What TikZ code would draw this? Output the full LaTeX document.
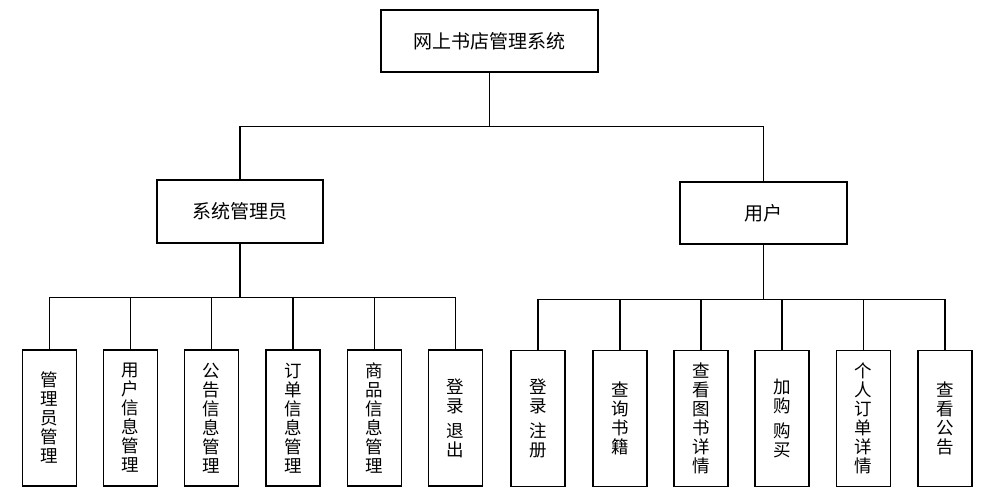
\documentclass[tikz,border=0pt]{standalone}
\usepackage{fontspec}
\newfontfamily\cjk{Noto Sans CJK SC}

\begin{document}
\begin{tikzpicture}[every node/.style={inner sep=0pt},
  box/.style={rectangle, draw=black, line width=1.4pt, font=\cjk\fontsize{19}{21}\selectfont},
  leaf/.style={rectangle, draw=black, line width=1.4pt, minimum width=54pt, minimum height=136pt, align=center, font=\cjk\fontsize{17.5}{19}\selectfont},
  link/.style={line width=1.3pt, color=black}]
\useasboundingbox (0pt, 0pt) rectangle (996pt, -500pt);
\node (top) [box, minimum width=217pt, minimum height=62pt] at (489.5pt, -41.0pt) {网上书店管理系统};
\node (adm) [box, minimum width=166pt, minimum height=63pt] at (240.0pt, -211.5pt) {系统管理员};
\node (usr) [box, minimum width=167pt, minimum height=62pt] at (763.5pt, -213.0pt) {用户};
\node (a1) [leaf] at (49.5pt, -418.0pt) {管\\理\\员\\管\\理};
\node (a2) [leaf] at (130.5pt, -418.0pt) {用\\户\\信\\息\\管\\理};
\node (a3) [leaf] at (211.5pt, -418.0pt) {公\\告\\信\\息\\管\\理};
\node (a4) [leaf] at (293.0pt, -418.0pt) {订\\单\\信\\息\\管\\理};
\node (a5) [leaf] at (374.5pt, -418.0pt) {商\\品\\信\\息\\管\\理};
\node (a6) [leaf] at (455.5pt, -418.0pt) {登\\录\\[6pt]退\\出};
\node (u1) [leaf] at (538.0pt, -418.5pt) {登\\录\\[6pt]注\\册};
\node (u2) [leaf] at (620.0pt, -418.5pt) {查\\询\\书\\籍};
\node (u3) [leaf] at (701.0pt, -418.5pt) {查\\看\\图\\书\\详\\情};
\node (u4) [leaf] at (782.0pt, -418.5pt) {加\\购\\[6pt]购\\买};
\node (u5) [leaf] at (863.5pt, -418.5pt) {个\\人\\订\\单\\详\\情};
\node (u6) [leaf] at (945.0pt, -418.5pt) {查\\看\\公\\告};
\draw [link] (top.south) -- ++(0pt, -54pt) -| (adm.north);
\draw [link] (top.south) -- ++(0pt, -54pt) -| (usr.north);
\foreach \n in {a1, a2, a3, a4, a5, a6}
  \draw [link] (adm.south) -- ++(0pt, -54pt) -| (\n.north);
\foreach \n in {u1, u2, u3, u4, u5, u6}
  \draw [link] (usr.south) -- ++(0pt, -55pt) -| (\n.north);
\end{tikzpicture}
\end{document}
